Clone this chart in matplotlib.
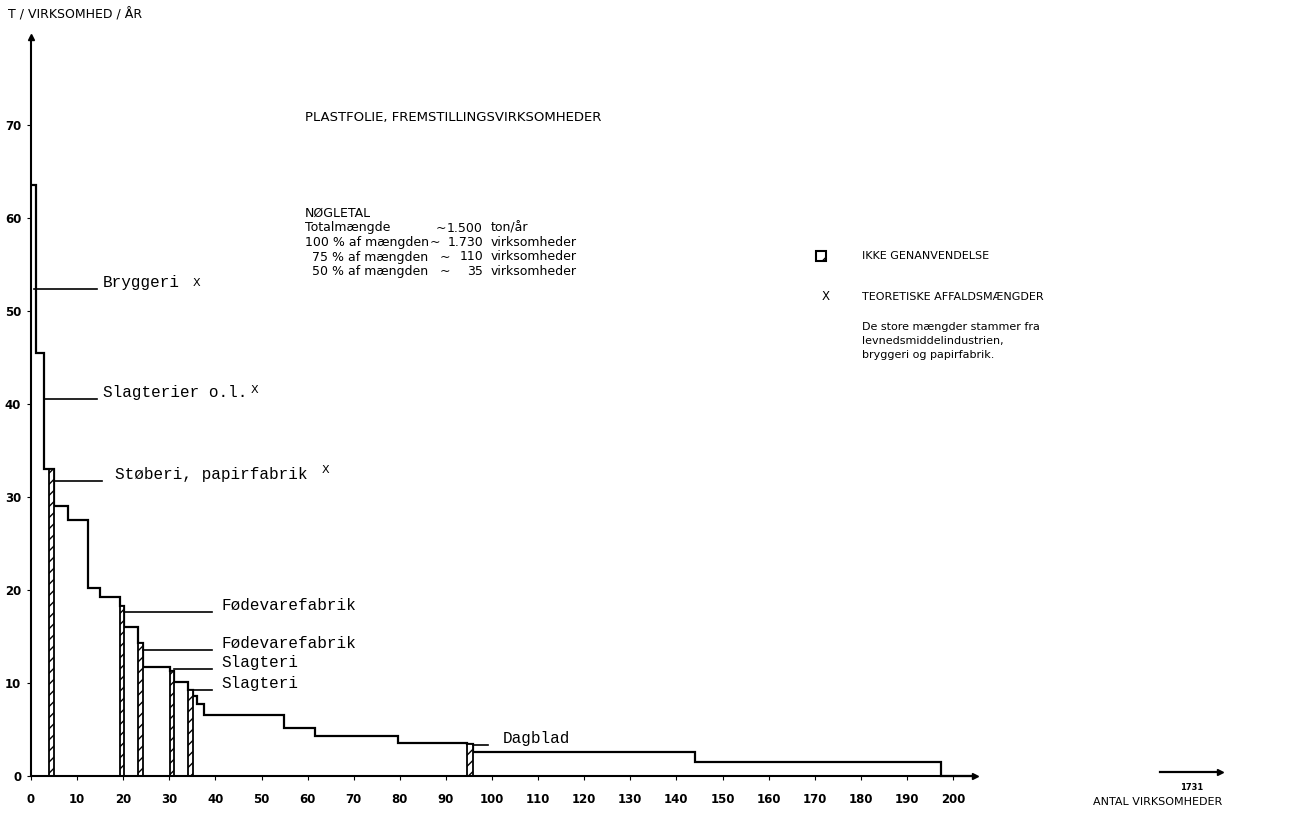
import matplotlib
matplotlib.use("Agg")
import matplotlib.pyplot as plt
from matplotlib.patches import Rectangle

# step outline: tons per company per year against number of companies
step_edges = [0, 1, 2.8, 3.8, 5, 8.1, 12.3, 15, 19.2, 20.2, 23.1, 24.3, 30.2, 31,
              34, 35.1, 36, 37.5, 54.9, 61.6, 79.6, 94.6, 95.9, 144, 197.4, 204.8]
step_heights = [63.5, 45.5, 33, 33, 29, 27.5, 20.2, 19.2, 18.3, 16, 14.3, 11.7, 11.3,
                10.1, 9.2, 8.6, 7.7, 6.6, 5.2, 4.3, 3.6, 3.4, 2.55, 1.5, 0]
# segments with "ikke genanvendelse" (hatched)
hatched_idx = [3, 8, 10, 12, 14, 21]

# named companies with leader lines
label_texts = ["Bryggeri", "Slagterier o.l.", "Støberi, papirfabrik",
               "Fødevarefabrik", "Fødevarefabrik", "Slagteri", "Slagteri", "Dagblad"]
label_x0 = [0.7, 2.8, 5, 20.2, 24.3, 31, 35.1, 95.9]
label_x1 = [14.3, 14.3, 15.4, 39.3, 39.3, 39.3, 39.3, 99.1]
label_y = [52.4, 40.5, 31.7, 17.6, 13.5, 11.5, 9.2, 3.3]
label_tx = [15.6, 15.6, 18.2, 41.4, 41.4, 41.4, 41.4, 102.4]

# theoretical amounts (X marks)
xmark_x = [36.0, 48.4, 63.8]
xmark_y = [53, 41.5, 32.9]

x_ticks = list(range(0, 201, 10))
y_ticks = list(range(0, 71, 10))

# key figures box
nogletal_names = ["Totalmængde", "100 % af mængden", "75 % af mængden", "50 % af mængden"]
nogletal_values = ["1.500", "1.730", "110", "35"]
nogletal_units = ["ton/år", "virksomheder", "virksomheder", "virksomheder"]
note_lines = ["De store mængder stammer fra",
              "levnedsmiddelindustrien,",
              "bryggeri og papirfabrik."]

W, H = 1289, 817
mono = "Liberation Mono"
sans = "DejaVu Sans"
plt.rcParams['hatch.linewidth'] = 1.0


def px(x, y):
    return x / W, 1 - y / H


fig = plt.figure(figsize=(W / 100, H / 100), dpi=100)
ax = fig.add_axes([0.01691, 0.0388, 0.7761, 0.9448])
ax.set_xlim(-2, 215)
ax.set_ylim(-1, 82)

ax.stairs(step_heights, step_edges, color="black", lw=1.6, baseline=None)
for i in hatched_idx:
    ax.bar(step_edges[i], step_heights[i], width=step_edges[i + 1] - step_edges[i],
           align="edge", color="white", edgecolor="black", hatch="///", lw=1.3)

for txt, x0, x1, y, tx in zip(label_texts, label_x0, label_x1, label_y, label_tx):
    ax.plot([x0, x1], [y, y], color="black", lw=1.2)
    ax.text(tx, y + 0.7, txt, family=mono, fontsize=11.5, va="center", ha="left")
for x, y in zip(xmark_x, xmark_y):
    ax.text(x, y, "X", family=sans, fontsize=8, va="center", ha="center")

# axes drawn as arrows from the origin
for side in ["top", "right"]:
    ax.spines[side].set_visible(False)
ax.spines["left"].set_position(("data", 0))
ax.spines["bottom"].set_position(("data", 0))
ax.spines["left"].set_bounds(0, 79.5)
ax.spines["bottom"].set_bounds(0, 204.8)
ax.spines["left"].set_linewidth(1.5)
ax.spines["bottom"].set_linewidth(1.5)
ax.plot([0], [79.5], marker="^", color="black", ms=5, clip_on=False)
ax.plot([204.8], [0], marker=">", color="black", ms=5, clip_on=False)

ax.set_xticks(x_ticks)
ax.set_yticks(y_ticks)
ax.tick_params(axis="x", length=3, pad=9, labelsize=8.5)
ax.tick_params(axis="y", length=3, pad=4, labelsize=8.5)
for lab in ax.get_xticklabels() + ax.get_yticklabels():
    lab.set_fontweight("bold")

# texts around the chart
fig.text(*px(8, 15), "T / VIRKSOMHED / ÅR", family=sans, fontsize=9, va="center")
fig.text(*px(305, 117), "PLASTFOLIE, FREMSTILLINGSVIRKSOMHEDER", family=sans,
         fontsize=9.5, va="center")
fig.text(*px(305, 213), "NØGLETAL", family=sans, fontsize=9, va="center")
name_x = [305, 305, 312, 312]
tilde_x = [436, 430, 440, 440]
for k in range(len(nogletal_names)):
    y = 228 + 14.5 * k
    fig.text(*px(name_x[k], y), nogletal_names[k], family=sans, fontsize=9, va="center")
    fig.text(*px(tilde_x[k], y), "~", family=sans, fontsize=9, va="center")
    fig.text(*px(483, y), nogletal_values[k], family=sans, fontsize=9, va="center",
             ha="right")
    fig.text(*px(491, y), nogletal_units[k], family=sans, fontsize=9, va="center")

fig.patches.append(Rectangle(px(816, 261), 10 / W, 10 / H, transform=fig.transFigure,
                             facecolor="white", edgecolor="black", hatch="//", lw=1.5))
fig.text(*px(862, 256), "IKKE GENANVENDELSE", family=sans, fontsize=8, va="center")
fig.text(*px(826, 297), "X", family=sans, fontsize=8.5, va="center", ha="center")
fig.text(*px(862, 297), "TEORETISKE AFFALDSMÆNGDER", family=sans, fontsize=8,
         va="center")
for k, line in enumerate(note_lines):
    fig.text(*px(862, 327 + 14 * k), line, family=sans, fontsize=8, va="center")

# broken end of the x axis
ax_end = fig.add_axes([0, 0, 1, 1], facecolor="none")
ax_end.set_xlim(0, W)
ax_end.set_ylim(H, 0)
ax_end.axis("off")
ax_end.plot([1160, 1218], [772, 772], color="black", lw=1.6)
ax_end.plot([1220], [772], marker=">", color="black", ms=5)
fig.text(*px(1192, 787), "1731", family=sans, fontsize=6, va="center", ha="center",
         fontweight="bold")
fig.text(*px(1158, 802), "ANTAL VIRKSOMHEDER", family=sans, fontsize=8,
         va="center", ha="center")

fig.savefig("out.png", dpi=100)
